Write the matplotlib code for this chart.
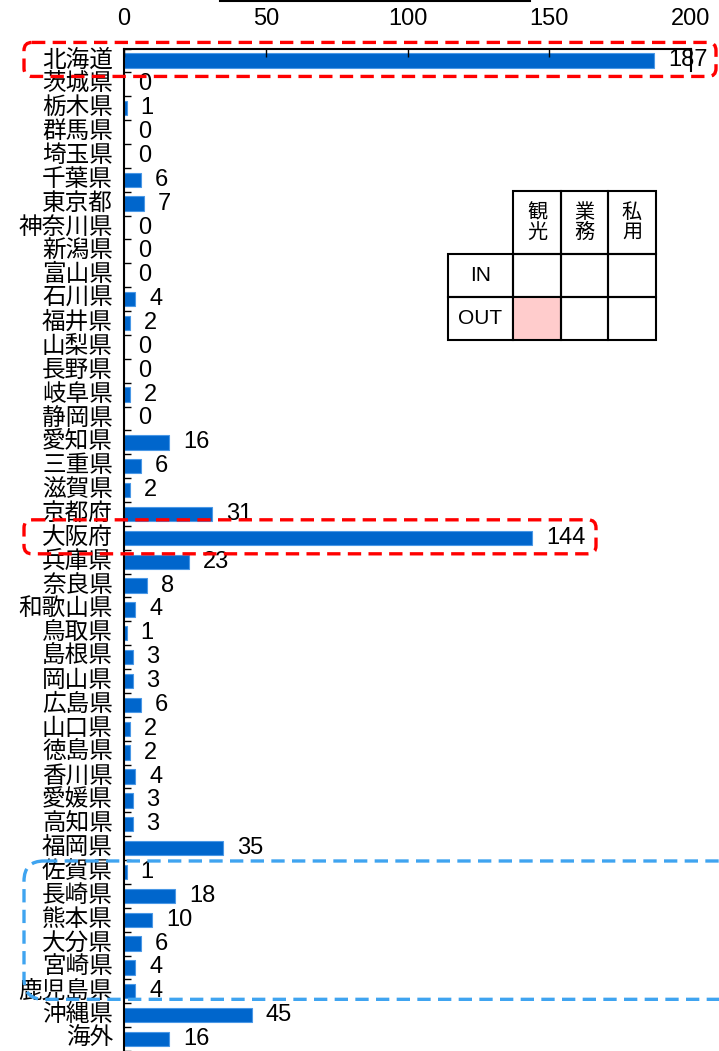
"""
Prefecture breakdown bar chart (horizontal) with highlight boxes and a small
IN/OUT x purpose legend table.
"""

import matplotlib
matplotlib.use("Agg")
import matplotlib.pyplot as plt
from matplotlib.patches import FancyBboxPatch, Rectangle
from matplotlib.transforms import ScaledTranslation
import numpy as np

plt.rcParams["font.family"] = ["Liberation Sans", "Noto Sans CJK JP", "DejaVu Sans"]

# --- data ---------------------------------------------------------------
prefectures = [
    "北海道", "茨城県", "栃木県", "群馬県", "埼玉県", "千葉県", "東京都",
    "神奈川県", "新潟県", "富山県", "石川県", "福井県", "山梨県", "長野県",
    "岐阜県", "静岡県", "愛知県", "三重県", "滋賀県", "京都府", "大阪府",
    "兵庫県", "奈良県", "和歌山県", "鳥取県", "島根県", "岡山県", "広島県",
    "山口県", "徳島県", "香川県", "愛媛県", "高知県", "福岡県", "佐賀県",
    "長崎県", "熊本県", "大分県", "宮崎県", "鹿児島県", "沖縄県", "海外",
]
counts = [
    187, 0, 1, 0, 0, 6, 7,
    0, 0, 0, 4, 2, 0, 0,
    2, 0, 16, 6, 2, 31, 144,
    23, 8, 4, 1, 3, 3, 6,
    2, 2, 4, 3, 3, 35, 1,
    18, 10, 6, 4, 4, 45, 16,
]
x_ticks = [0, 50, 100, 150, 200]

table_cols = ["観\n光", "業\n務", "私\n用"]
table_rows = ["IN", "OUT"]
highlight_cell = ("OUT", "観光")

red_rows = ["北海道", "大阪府"]
blue_rows = ["佐賀県", "鹿児島県"]

W, H = 719, 1051
AX_LEFT, AX_RIGHT, AX_TOP = 124, 691, 48.5


def row_px(i):
    """Pixel y (from top) of the centre of category row i."""
    row_h = (H - AX_TOP) / len(prefectures)
    return AX_TOP + (i + 0.5) * row_h


def main():
    fig = plt.figure(figsize=(W / 100, H / 100), dpi=100)
    ax = fig.add_axes([AX_LEFT / W, 0, (AX_RIGHT - AX_LEFT) / W, 1 - AX_TOP / H])

    y = np.arange(len(prefectures))
    ax.barh(y, counts, height=0.6, color="#0066CC", edgecolor="#4A98E6", linewidth=0.8)
    for yi, v in zip(y, counts):
        ax.annotate(str(v), (v, yi), xytext=(10, 0), textcoords="offset points",
                    va="center", ha="left", fontsize=17)

    ax.set_xlim(0, 200)
    ax.set_ylim(len(prefectures) - 0.5, -0.5)
    ax.xaxis.tick_top()
    ax.set_xticks(x_ticks)
    ax.tick_params(axis="x", direction="in", length=6, width=1, pad=13, labelsize=17)
    ax.set_yticks(y)
    ax.set_yticklabels(prefectures, fontsize=17, va="center")
    # CJK glyphs sit a bit high with va=center, nudge them down
    nudge = ScaledTranslation(0, -2 / 100, fig.dpi_scale_trans)
    for lbl in ax.get_yticklabels():
        lbl.set_transform(lbl.get_transform() + nudge)
    ax.tick_params(axis="y", length=0, pad=8)
    ax.set_yticks(np.arange(len(prefectures) + 1) - 0.5, minor=True)
    ax.tick_params(axis="y", which="minor", direction="in", length=5, width=1)
    ax.spines["bottom"].set_visible(False)
    ax.spines["right"].set_visible(False)
    for s in ("top", "left"):
        ax.spines[s].set_linewidth(1.5)
    # short right edge on first row only
    ax.plot([200, 200], [-0.5, 0.45], color="black", lw=1.5, clip_on=False)

    # overlay in pixel coordinates for the decorations
    ov = fig.add_axes([0, 0, 1, 1], facecolor="none")
    ov.set_xlim(0, W)
    ov.set_ylim(H, 0)
    ov.axis("off")

    # leftover rule at very top
    ov.plot([220, 530], [1, 1], color="black", lw=1.5)

    # red dashed highlight boxes
    for name, right in zip(red_rows, [718, 598]):
        cy = row_px(prefectures.index(name))
        ov.add_patch(FancyBboxPatch((24, cy - 18), right - 26, 34,
                                    boxstyle="round,pad=0,rounding_size=8",
                                    fill=False, ec="#FF0000", lw=2.4,
                                    linestyle=(0, (4, 2.2))))

    # blue dashed box around southern Kyushu, open to the right
    top = row_px(prefectures.index(blue_rows[0])) - 11
    bot = row_px(prefectures.index(blue_rows[1])) + 8
    ov.add_patch(FancyBboxPatch((24, top), 760, bot - top,
                                boxstyle="round,pad=0,rounding_size=20",
                                fill=False, ec="#3FA4F0", lw=2.4,
                                linestyle=(0, (4, 2.2)), clip_on=True))

    # legend table
    xs = [448, 513, 561, 608, 656]
    ys = [191, 254, 297, 340]
    for j, lab in enumerate(table_cols):
        ov.add_patch(Rectangle((xs[j + 1], ys[0]), xs[j + 2] - xs[j + 1], ys[1] - ys[0],
                               fill=False, ec="black", lw=1.5))
        ov.text((xs[j + 1] + xs[j + 2]) / 2, (ys[0] + ys[1]) / 2, lab,
                ha="center", va="center", fontsize=14.5, linespacing=1.05)
    for i, rlab in enumerate(table_rows):
        ov.add_patch(Rectangle((xs[0], ys[i + 1]), xs[1] - xs[0], ys[i + 2] - ys[i + 1],
                               fill=False, ec="black", lw=1.5))
        ov.text((xs[0] + xs[1]) / 2, (ys[i + 1] + ys[i + 2]) / 2, rlab,
                ha="center", va="center", fontsize=15)
        for j, clab in enumerate(table_cols):
            hit = (rlab, clab.replace("\n", "")) == highlight_cell
            ov.add_patch(Rectangle((xs[j + 1], ys[i + 1]), xs[j + 2] - xs[j + 1],
                                   ys[i + 2] - ys[i + 1],
                                   fc="#FFCCCC" if hit else "none", ec="black", lw=1.5))

    fig.savefig("out.png", dpi=100)


if __name__ == "__main__":
    main()
